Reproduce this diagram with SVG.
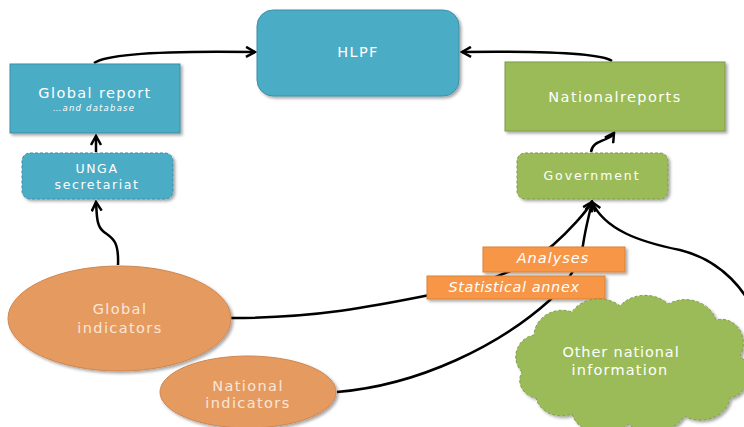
<svg xmlns="http://www.w3.org/2000/svg" width="744" height="427" viewBox="0 0 744 427">
<style>
text{font-family:"DejaVu Sans","Liberation Sans",sans-serif;fill:#ffffff;text-anchor:middle}
.t{font-size:14.5px;letter-spacing:1.4px}
.s{font-size:12.5px;letter-spacing:1.6px}
.o{fill:#fbe6d6}
.it{font-style:italic}
.blue{fill:#4BACC6;stroke:#3d8ea5;stroke-width:1}
.green{fill:#9BBB59;stroke:#7e9a47;stroke-width:1}
.dash{stroke-dasharray:3 2}
.ell{fill:#E59B60;stroke:#cf8650;stroke-width:1}
.lab{fill:#F79646;stroke:#d98136;stroke-width:1}
.c{fill:none;stroke:#000;stroke-width:2.5}
</style>
<defs>
<filter id="sh" x="-10%" y="-10%" width="130%" height="140%">
<feDropShadow dx="2" dy="2" stdDeviation="1.5" flood-color="#000" flood-opacity="0.35"/>
</filter>
<marker id="ar" viewBox="0 0 12 12" refX="10" refY="6" markerWidth="12" markerHeight="12" markerUnits="userSpaceOnUse" orient="auto">
<path d="M1,1 L10,6 L1,11" fill="none" stroke="#000" stroke-width="2.5"/>
</marker>
</defs>
<g id="connectors">
<path class="c" d="M94 63 C110 52,190 51,255 52" marker-end="url(#ar)"/>
<path class="c" d="M612 61 C600 53,540 51,462 52" marker-end="url(#ar)"/>
<path class="c" d="M96 152 L96 136" marker-end="url(#ar)"/>
<path class="c" d="M118 265 C119 240,112 238,104 232 C96 226,97 215,96 202" marker-end="url(#ar)"/>
<path class="c" d="M591 152 C592 143,600 142,606 139 S612 136,614 133" marker-end="url(#ar)"/>
<path class="c" d="M231 318 C320 318,380 305,440 293 C490 282,530 265,553 245 C570 230,586 212,592 202" marker-end="url(#ar)"/>
<path class="c" d="M337 392 C420 385,500 345,550 300 C570 280,580 262,583 245 C586 225,590 212,592 202" marker-end="url(#ar)"/>
<path class="c" d="M760 330 C750 290,720 260,680 250 C640 242,605 230,592 202" marker-end="url(#ar)"/>
</g>
<g id="hlpf">
<rect class="blue" x="257" y="10" width="202" height="86" rx="16" filter="url(#sh)"/>
<text class="t" x="358" y="57">HLPF</text>
</g>
<g id="global-report">
<rect class="blue" x="10" y="64" width="170" height="69" filter="url(#sh)"/>
<text class="t" x="95" y="98">Global report</text>
<text class="it" x="94" y="111" style="font-size:8.5px;letter-spacing:1.2px">…and database</text>
</g>
<g id="unga">
<rect class="blue dash" x="22" y="153" width="151" height="46" rx="8" filter="url(#sh)"/>
<text class="s" x="97" y="173">UNGA</text>
<text class="s" x="97" y="189">secretariat</text>
</g>
<g id="national-reports">
<rect class="green" x="505" y="62" width="220" height="69" filter="url(#sh)"/>
<text class="t" x="615" y="102">Nationalreports</text>
</g>
<g id="government">
<rect class="green dash" x="517" y="153" width="151" height="46" rx="8" filter="url(#sh)"/>
<text class="s" x="592" y="180" style="font-size:12.5px;letter-spacing:1.9px">Government</text>
</g>
<g id="global-indicators">
<ellipse class="ell" cx="119.5" cy="318.5" rx="111.5" ry="52.5" filter="url(#sh)"/>
<text class="t o" x="120" y="314">Global</text>
<text class="t o" x="120" y="333">indicators</text>
</g>
<g id="national-indicators">
<ellipse class="ell" cx="248" cy="392" rx="88" ry="36" filter="url(#sh)"/>
<text class="t o" x="248" y="391">National</text>
<text class="t o" x="248" y="408">indicators</text>
</g>
<g id="analyses">
<rect class="lab" x="483" y="247" width="142" height="25" filter="url(#sh)"/>
<text class="t it" x="553" y="263" style="letter-spacing:1px">Analyses</text>
</g>
<g id="statistical-annex">
<rect class="lab" x="427" y="276" width="178" height="23" filter="url(#sh)"/>
<text class="t it" x="514" y="292" style="letter-spacing:0.6px">Statistical annex</text>
</g>
<g id="other-national-information">
<path class="green dash" filter="url(#sh)" d="M522 372 A22 22 0 0 1 534 335 A28 26 0 0 1 572 312 A30 24 0 0 1 620 306 A30 24 0 0 1 668 304 A32 28 0 0 1 716 320 A22 24 0 0 1 740 356 A24 24 0 0 1 730 398 A30 26 0 0 1 684 416 A34 26 0 0 1 628 424 A32 26 0 0 1 572 414 A26 22 0 0 1 536 398 A20 18 0 0 1 522 372 Z"/>
<text class="t" x="621" y="357" style="letter-spacing:0.9px">Other national</text>
<text class="t" x="620" y="375" style="letter-spacing:1.2px">information</text>
</g>
</svg>
